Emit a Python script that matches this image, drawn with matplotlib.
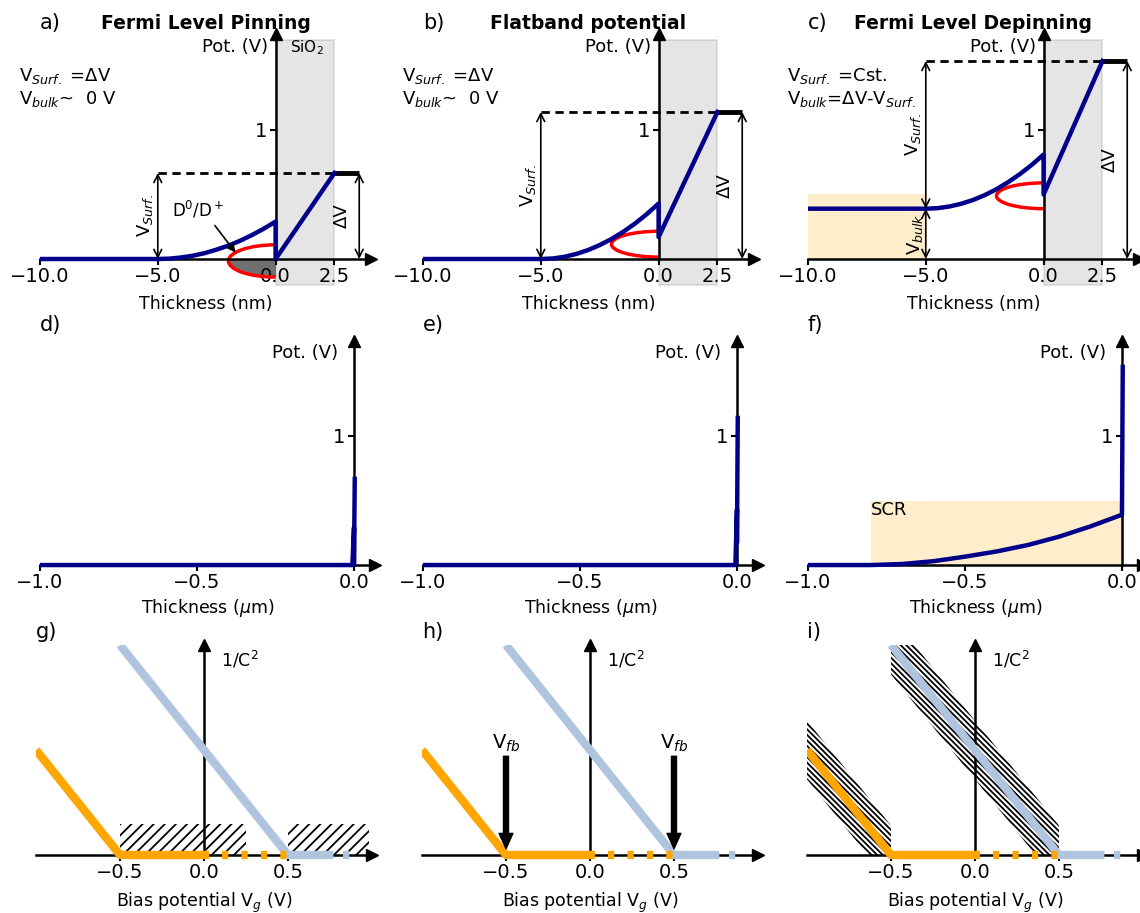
import matplotlib.pyplot as plt
from matplotlib.patches import Rectangle, Arc, Ellipse

plt.rcParams['font.family'] = ['DejaVu Sans']
plt.rcParams['hatch.linewidth'] = 1.3
plt.rcParams['lines.scale_dashes'] = False

# ---------------- data ----------------
# rows a-c : potential across the interface, thickness in nm
x_nm = [-10, -5, -4.5, -4, -3.5, -3, -2.5, -2, -1.5, -1, -0.5, 0, 0, 2.5]
pot_pin = [0, 0, 0.003, 0.012, 0.026, 0.046, 0.073, 0.104, 0.142, 0.186, 0.235, 0.29, 0.0, 0.667]
pot_flat = [0, 0, 0.004, 0.017, 0.039, 0.069, 0.108, 0.155, 0.211, 0.275, 0.348, 0.43, 0.17, 1.14]
pot_depin = [0.39, 0.39, 0.394, 0.407, 0.428, 0.457, 0.495, 0.541, 0.596, 0.659, 0.730, 0.81, 0.5, 1.535]
delta_v = [0.667, 1.14, 1.535]
v_bulk = [0.0, 0.0, 0.39]
# D0/D+ defect level: centre (V), half height (V), half width (nm)
defect_center = [-0.015, 0.115, 0.49]
defect_half_h = [0.125, 0.1, 0.1]
defect_half_w = 2.0
titles = ['Fermi Level Pinning', 'Flatband potential', 'Fermi Level Depinning']
info_text = [('V$_{Surf.}$ =ΔV', 'V$_{bulk}$~  0 V'),
             ('V$_{Surf.}$ =ΔV', 'V$_{bulk}$~  0 V'),
             ('V$_{Surf.}$ =Cst.', 'V$_{bulk}$=ΔV-V$_{Surf.}$')]

# rows d-f : same profiles on the micrometre scale
x_um = [-1.0, -0.005, 0.0, 0.0, 0.0025]
pot_pin_um = [0, 0, 0.29, 0.0, 0.667]
pot_flat_um = [0, 0, 0.43, 0.17, 1.14]
x_um_depin = [-1.0, -0.8, -0.7, -0.6, -0.5, -0.4, -0.3, -0.2, -0.1, 0.0, 0.0025]
pot_depin_um = [0, 0, 0.008, 0.03, 0.065, 0.105, 0.155, 0.22, 0.3, 0.39, 1.535]
scr_width = 0.8
scr_height = 0.5

# rows g-i : 1/C^2 vs bias potential
vg_orange = [-1.0, -0.5, 0.03]
c2_orange = [0.5, 0.0, 0.0]
vg_orange_dash = [0.11, 0.5]
vg_blue = [-0.5, 0.5, 0.77]
c2_blue = [1.0, 0.0, 0.0]
vg_blue_dash = [0.83, 0.9]
v_fb = [-0.5, 0.5]
hatch_boxes = [(-0.5, 0.25), (0.5, 0.98)]
hatch_height = 0.15
band_orange_x = [-1.0, -0.64, -0.5]
band_orange_lo = [0.36, 0.0, 0.0]
band_orange_hi = [0.64, 0.28, 0.14]
band_blue_x = [-0.5, 0.36, 0.5]
band_blue_lo = [0.86, 0.0, 0.0]
band_blue_hi = [1.14, 0.28, 0.14]

BLUE = 'darkblue'
W, H = 1140, 913
fig = plt.figure(figsize=(11.4, 9.13), dpi=100)


def add_axes(left, top, width, height):
    return fig.add_axes([left / W, 1 - (top + height) / H, width / W, height / H])


def arrow_axes(ax, xlim, ylim, xticks, yticks):
    ax.set_xlim(xlim)
    ax.set_ylim(ylim)
    ax.set_facecolor('none')
    ax.spines[['top', 'right']].set_visible(False)
    ax.spines['left'].set_position(('data', 0))
    ax.spines['bottom'].set_position(('data', 0))
    ax.spines['left'].set_bounds(0, ylim[1])
    ax.spines[['left', 'bottom']].set_linewidth(1.8)
    ax.plot(1, 0, '>k', ms=9, transform=ax.get_yaxis_transform(), clip_on=False)
    ax.plot(0, 1, '^k', ms=9, transform=ax.get_xaxis_transform(), clip_on=False)
    ax.set_xticks(xticks, [f'{v:.1f}'.replace('-', '\u2212') for v in xticks])
    ax.set_yticks(yticks, [str(v) for v in yticks])
    ax.tick_params(labelsize=14, width=1.5, length=4, pad=2)


def darrow(ax, x, y0, y1):
    ax.annotate('', xy=(x, y1), xytext=(x, y0),
                arrowprops=dict(arrowstyle='<->', lw=1.2, color='k',
                                shrinkA=0, shrinkB=0, mutation_scale=14))


lefts = [40, 423, 808]
pots = [pot_pin, pot_flat, pot_depin]
letters = 'abcdefghi'

# ---------------- row 1 ----------------
for i in range(3):
    ax = add_axes(lefts[i], 34.5, 331, 252.9)
    arrow_axes(ax, (-10, 4.05), (-0.22, 1.74), [-10, -5, 0, 2.5], [1])
    ax.add_patch(Rectangle((0, -0.2), 2.5, 1.9, facecolor='grey', edgecolor='grey',
                           alpha=0.2, lw=1.5, zorder=0))
    if i == 2:
        ax.add_patch(Rectangle((-10, 0), 5, 0.5, facecolor='orange', alpha=0.2,
                               lw=0, zorder=0))
    if i == 0:
        ell = Ellipse((0, defect_center[0]), 2 * defect_half_w, 2 * defect_half_h[0],
                      facecolor='#707070', lw=0, zorder=1)
        clip = Rectangle((-3, -0.5), 3, 0.5, transform=ax.transData)
        ax.add_patch(ell)
        ell.set_clip_path(clip)
    ax.add_patch(Arc((0, defect_center[i]), 2 * defect_half_w, 2 * defect_half_h[i],
                     theta1=90, theta2=270, color='red', lw=2.5, zorder=2))
    ax.plot(x_nm, pots[i], color=BLUE, lw=3.2, zorder=3)
    dv = delta_v[i]
    ax.plot([-5, 2.5], [dv, dv], 'k--', lw=2, dashes=(6, 4))
    ax.plot([2.5, 3.55], [dv, dv], 'k-', lw=3.5, solid_capstyle='butt')
    darrow(ax, 3.55, 0, dv)
    ax.text(2.8, dv / 2, 'ΔV', rotation=90, ha='center', va='center', fontsize=13)
    darrow(ax, -5, v_bulk[i], dv)
    ax.text(-5.55, (v_bulk[i] + dv) / 2, 'V$_{Surf.}$', rotation=90,
            ha='center', va='center', fontsize=13)
    if i == 2:
        darrow(ax, -5, 0, v_bulk[i])
        ax.text(-5.45, v_bulk[i] / 2, 'V$_{bulk}$', rotation=90,
                ha='center', va='center', fontsize=13)
    line1, line2 = info_text[i]
    ax.text(-10.9, 1.42, line1, ha='left', va='center', fontsize=13, clip_on=False)
    ax.text(-10.9, 1.24, line2, ha='left', va='center', fontsize=13, clip_on=False)
    ax.text(-0.3, 1.64, 'Pot. (V)', ha='right', va='center', fontsize=13)
    if i == 0:
        ax.text(0.6, 1.64, 'SiO$_2$', ha='left', va='center', fontsize=11)
        ax.annotate('D$^0$/D$^+$', xy=(-1.7, 0.05), xytext=(-4.4, 0.38),
                    fontsize=12, va='center',
                    arrowprops=dict(arrowstyle='-|>', color='k', lw=1.2,
                                    relpos=(0.75, 0), shrinkA=2, shrinkB=0,
                                    mutation_scale=12))
    ax.text(0.0, 1.045, letters[i] + ')', transform=ax.transAxes, fontsize=15,
            ha='left', va='center')
    ax.text(0.5, 1.045, titles[i], transform=ax.transAxes, fontsize=13.5,
            fontweight='bold', ha='center', va='center')
    ax.text(0.5, -0.065, 'Thickness (nm)', transform=ax.transAxes, fontsize=12.5,
            ha='center', va='center')

# ---------------- row 2 ----------------
xs_um = [x_um, x_um, x_um_depin]
pots_um = [pot_pin_um, pot_flat_um, pot_depin_um]
for i in range(3):
    ax = add_axes(lefts[i], 340.5, 335, 231)
    arrow_axes(ax, (-1.0, 0.067), (-0.05, 1.74), [-1.0, -0.5, 0.0], [1])
    if i == 2:
        ax.add_patch(Rectangle((-scr_width, 0), scr_width, scr_height,
                               facecolor='orange', alpha=0.2, lw=0, zorder=0))
        ax.text(-0.8, 0.43, 'SCR', ha='left', va='center', fontsize=13)
    ax.plot(xs_um[i], pots_um[i], color=BLUE, lw=3.2, zorder=3)
    ax.text(-0.05, 1.64, 'Pot. (V)', ha='right', va='center', fontsize=13)
    ax.text(0.0, 1.067, letters[i + 3] + ')', transform=ax.transAxes, fontsize=15,
            ha='left', va='center')
    ax.text(0.5, -0.16, 'Thickness ($\\mu$m)', transform=ax.transAxes, fontsize=12.5,
            ha='center', va='center')

# ---------------- row 3 ----------------
lefts3 = [36, 422, 807]
for i in range(3):
    ax = add_axes(lefts3[i], 645, 336, 220.5)
    arrow_axes(ax, (-1.0, 1.0), (-0.05, 1.0), [-0.5, 0.0, 0.5], [])
    if i == 0:
        for x0, x1 in hatch_boxes:
            ax.add_patch(Rectangle((x0, 0), x1 - x0, hatch_height, facecolor='none',
                                   edgecolor='k', hatch='///', lw=0, zorder=1))
    if i == 2:
        ax.fill_between(band_orange_x, band_orange_lo, band_orange_hi, facecolor='none',
                        edgecolor='k', hatch='\\' * 6, lw=0, zorder=1)
        ax.fill_between(band_blue_x, band_blue_lo, band_blue_hi, facecolor='none',
                        edgecolor='k', hatch='\\' * 6, lw=0, zorder=1)
    ax.plot(vg_blue, c2_blue, color='lightsteelblue', lw=6, solid_capstyle='butt', zorder=3)
    ax.plot(vg_blue_dash, [0, 0], color='lightsteelblue', lw=6, dashes=(4.5, 9.5), zorder=3)
    ax.plot(vg_orange, c2_orange, color='orange', lw=6, solid_capstyle='butt', zorder=3)
    ax.plot(vg_orange_dash, [0, 0], color='orange', lw=6, dashes=(4.5, 9.5), zorder=3)
    if i == 1:
        for v in v_fb:
            ax.annotate('', xy=(v, 0.03), xytext=(v, 0.47),
                        arrowprops=dict(facecolor='k', edgecolor='k', width=3.6,
                                        headwidth=10, headlength=11, shrink=0),
                        zorder=4)
            ax.text(v, 0.53, 'V$_{fb}$', ha='center', va='center', fontsize=14)
    ax.text(0.1, 0.93, '1/C$^2$', ha='left', va='center', fontsize=12.5)
    ax.text(0.0, 1.059, letters[i + 6] + ')', transform=ax.transAxes, fontsize=15,
            ha='left', va='center')
    ax.text(0.5, -0.17, 'Bias potential V$_g$ (V)', transform=ax.transAxes,
            fontsize=12.5, ha='center', va='center')

fig.savefig('out.png', dpi=100)
